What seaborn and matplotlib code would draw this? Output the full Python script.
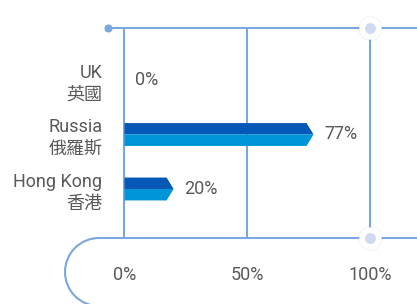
import numpy as np
import pandas as pd
import seaborn as sns
import matplotlib.pyplot as plt
from matplotlib.patches import Polygon, Arc

# --- data ---
countries_en = ["UK", "Russia", "Hong Kong"]
countries_zh = ["英國", "俄羅斯", "香港"]
share = [0, 77, 20]
x_ticks = [0, 50, 100]
x_tick_labels = ["0%", "50%", "100%"]

# --- style ---
LINE = "#7ba7e1"
DARK = "#0558b6"
LIGHT = "#0095d9"
TEXT = "#595959"
DOT = "#cfdaf1"
FS = 13

sns.set_theme(style="white")
plt.rcParams['font.family'] = ['Roboto', 'Noto Sans CJK TC', 'DejaVu Sans']

df = pd.DataFrame({
    "label": [f"{en}\n{zh}" for en, zh in zip(countries_en, countries_zh)],
    "share": share,
})

W, H, DPI = 417, 304, 100
fig = plt.figure(figsize=(W / DPI, H / DPI), dpi=DPI)

# plot area in pixels: x 124.5..370, y 28..238 (from top)
x0_px, x1_px, top_px, bot_px = 124.5, 370, 28, 238
ax = fig.add_axes([x0_px / W, 1 - bot_px / H, (x1_px - x0_px) / W, (bot_px - top_px) / H])

sns.barplot(data=df, y="label", x="share", orient="h", width=0.42, ax=ax,
            color=LIGHT, saturation=1)

ax.set_xlim(0, 100)
ax.set_ylim(2.899, -0.954)

# turn plain bars into two-tone arrow bars
px_per_x = (x1_px - x0_px) / 100
tip = 7 / px_per_x
for p in list(ax.patches):
    x, y, w, h = p.get_x(), p.get_y(), p.get_width(), p.get_height()
    p.remove()
    if w <= 0:
        continue
    d = min(tip, w)
    mid = y + h / 2
    top = Polygon([(x, y), (x + w - d, y), (x + w, mid), (x, mid)],
                  closed=True, facecolor=DARK, edgecolor="none")
    bot = Polygon([(x, mid), (x + w, mid), (x + w - d, y + h), (x, y + h)],
                  closed=True, facecolor=LIGHT, edgecolor="none")
    ax.add_patch(top)
    ax.add_patch(bot)

# value labels
for i, v in enumerate(share):
    ax.annotate(f"{v}%", (v, i), xytext=(7.5, 0), textcoords="offset points",
                ha="left", va="center", fontsize=FS, color=TEXT)

# frame: grid lines, top/bottom rules, arc, dots
for s in ax.spines.values():
    s.set_visible(False)
ax.vlines(x_ticks, -0.954, 2.899, color=LINE, lw=1.5, clip_on=False, zorder=0)

xl = (108 - x0_px) / px_per_x
xr = (W - x0_px) / px_per_x
ax.plot([xl, xr], [-0.954, -0.954], color=LINE, lw=1.5, clip_on=False, zorder=1)
arc_cx = (99 - x0_px) / px_per_x
ax.plot([arc_cx, xr], [2.899, 2.899], color=LINE, lw=1.5, clip_on=False, zorder=1)
px_per_y = (bot_px - top_px) / (2.899 + 0.954)
r = 34
ax.add_patch(Arc((arc_cx, 2.899 + r / px_per_y), 2 * r / px_per_x, 2 * r / px_per_y,
                 theta1=90, theta2=270, color=LINE, lw=1.5, clip_on=False))

ax.scatter([xl], [-0.954], s=34, color=LINE, clip_on=False, zorder=3, linewidths=0)
for yy in (-0.954, 2.899):
    ax.scatter([100], [yy], s=320, color="#000000", alpha=0.04, clip_on=False,
               zorder=3, linewidths=0)
    ax.scatter([100], [yy], s=260, color="white", clip_on=False, zorder=4, linewidths=0)
    ax.scatter([100], [yy], s=62, color=DOT, clip_on=False, zorder=5, linewidths=0)

# ticks
ax.set_xticks(x_ticks)
ax.set_xticklabels(x_tick_labels, fontsize=FS, color=TEXT)
ax.tick_params(axis="x", length=0, pad=20)
ax.tick_params(axis="y", length=0, pad=16)
for t in ax.get_yticklabels():
    t.set_fontsize(FS)
    t.set_color(TEXT)
    t.set_ha("right")
    t.set_multialignment("right")
    t.set_linespacing(1.25)
ax.set_xlabel("")
ax.set_ylabel("")

fig.savefig("out.png", dpi=DPI)
